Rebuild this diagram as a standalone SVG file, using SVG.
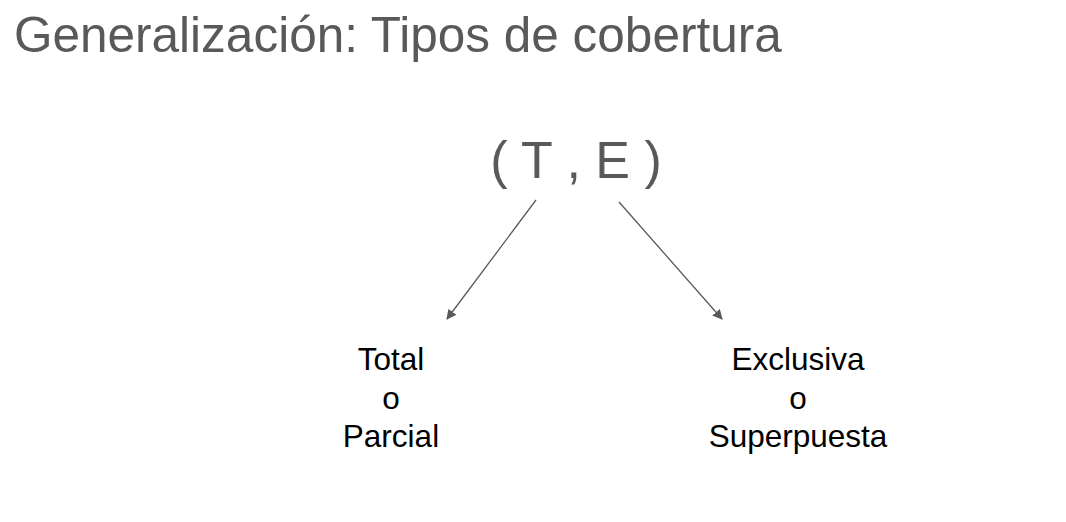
<svg xmlns="http://www.w3.org/2000/svg" width="1066" height="522" viewBox="0 0 1066 522">
<defs>
<style>
.title{font-family:"Liberation Sans",Arial,sans-serif;font-size:49.5px;fill:#595959}
.te{font-family:"Liberation Sans",Arial,sans-serif;font-size:52px;fill:#595959}
.lbl{font-family:"Liberation Sans",Arial,sans-serif;font-size:31.5px;fill:#000;text-anchor:middle}
.conn{stroke:#595959;stroke-width:1.3;fill:none;marker-end:url(#ah)}
</style>
<marker id="ah" viewBox="0 0 10 10" refX="9" refY="5" markerWidth="10" markerHeight="10" markerUnits="userSpaceOnUse" orient="auto">
<path d="M0,0 L10,5 L0,10 z" fill="#595959"/>
</marker>
</defs>
<rect width="1066" height="522" fill="#fff"/>
<g id="title"><text class="title" x="14" y="52">Generalización: Tipos de cobertura</text></g>
<g id="root"><text class="te" x="576" y="178" text-anchor="middle">( T , E )</text></g>
<g id="connectors">
<line class="conn" x1="536" y1="200" x2="447" y2="319"/>
<line class="conn" x1="619" y1="202" x2="722" y2="319"/>
</g>
<g id="left">
<text class="lbl" x="391" y="370">Total</text>
<text class="lbl" x="391" y="409">o</text>
<text class="lbl" x="391" y="447">Parcial</text>
</g>
<g id="right">
<text class="lbl" x="798" y="370">Exclusiva</text>
<text class="lbl" x="798" y="409">o</text>
<text class="lbl" x="798" y="447">Superpuesta</text>
</g>
</svg>
